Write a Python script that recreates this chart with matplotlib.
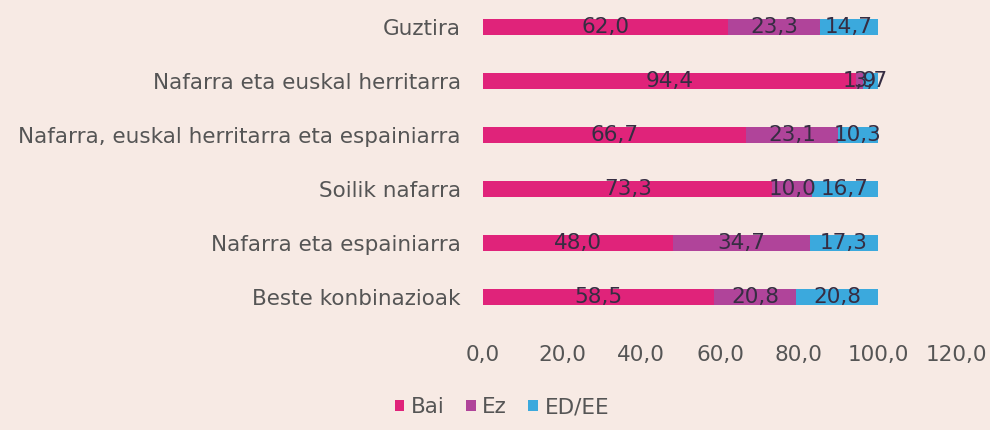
import matplotlib.pyplot as plt
import numpy as np

categories = ['Guztira', 'Nafarra eta euskal herritarra',
              'Nafarra, euskal herritarra eta espainiarra', 'Soilik nafarra',
              'Nafarra eta espainiarra', 'Beste konbinazioak']
bai = [62.0, 94.4, 66.7, 73.3, 48.0, 58.5]
ez = [23.3, 1.9, 23.1, 10.0, 34.7, 20.8]
ed_ee = [14.7, 3.7, 10.3, 16.7, 17.3, 20.8]
series_names = ['Bai', 'Ez', 'ED/EE']
xticks = [0, 20, 40, 60, 80, 100, 120]

bg = '#F7EAE4'
colors = ['#E0237A', '#B0449A', '#3BA9DD']

fig = plt.figure(figsize=(9.9, 4.3), dpi=100, facecolor=bg)
ax = fig.add_axes([0.488, 0.2465, 0.4785, 0.7535])
ax.set_facecolor(bg)

y = np.arange(len(categories))
left = np.zeros(len(categories))
for vals, col, name in zip([bai, ez, ed_ee], colors, series_names):
    bars = ax.barh(y, vals, left=left, height=0.31, color=col, label=name)
    for rect, v in zip(bars, vals):
        ax.text(rect.get_x() + rect.get_width() / 2, rect.get_y() + rect.get_height() / 2,
                f'{v:.1f}'.replace('.', ','), ha='center', va='center',
                fontsize=15.5, color='#362d42')
    left += np.array(vals)

ax.set_ylim(len(categories) - 0.5, -0.5)
ax.set_xlim(0, 120)
ax.set_yticks(y)
ax.set_yticklabels(categories)
ax.set_xticks(xticks)
ax.set_xticklabels([f'{t:.1f}'.replace('.', ',') for t in xticks])
ax.tick_params(axis='y', length=0, pad=16, labelsize=15.5, labelcolor='#555555')
ax.tick_params(axis='x', length=0, pad=15, labelsize=15.5, labelcolor='#555555')
for s in ax.spines.values():
    s.set_visible(False)

fig.legend(loc='center', bbox_to_anchor=(0.507, 0.053), ncol=3, frameon=False,
           fontsize=15.5, handlelength=0.45, handleheight=0.45, handletextpad=0.3,
           columnspacing=1.0, labelcolor='#555555')

fig.savefig('out.png', dpi=100, facecolor=bg)
